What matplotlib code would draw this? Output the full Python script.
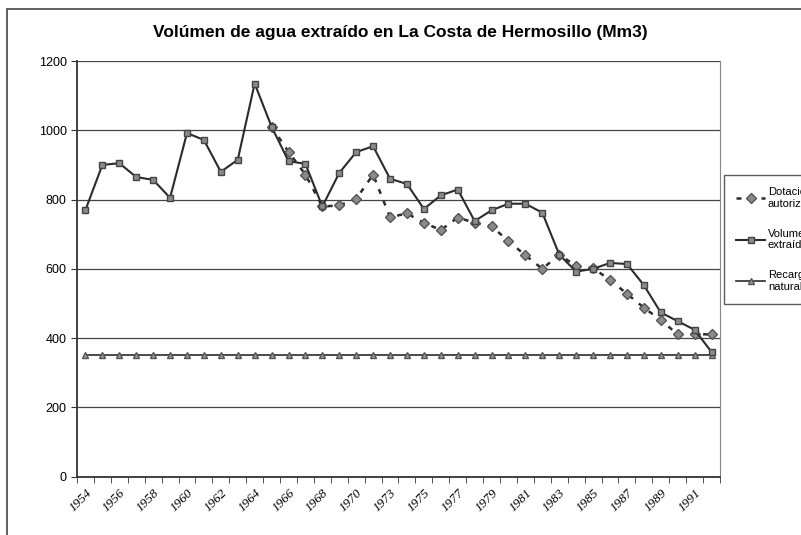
import numpy as np
import matplotlib
matplotlib.use("Agg")
import matplotlib.pyplot as plt
from matplotlib.patches import Rectangle
from matplotlib.transforms import ScaledTranslation

# Years on the category axis (1972 is not in the series)
years = list(range(1954, 1972)) + list(range(1973, 1993))

# Volumes in Mm3
volumen = [770, 900, 905, 865, 857, 805, 992, 972, 880, 915, 1135, 1010, 911,
           903, 780, 877, 937, 954, 860, 845, 773, 812, 829, 738, 769, 788,
           788, 762, 641, 592, 600, 617, 614, 553, 474, 449, 424, 360]
dotacion = [np.nan] * 11 + [1010, 938, 872, 780, 783, 802, 872, 749, 760, 733,
                            712, 748, 733, 723, 680, 639, 600, 641, 608, 602,
                            568, 528, 488, 452, 411, 411, 411]
recarga = [352] * 38

labels = ['Dotacion\nautorizada', 'Volumen\nextraído', 'Recarga\nnatural']

x = np.arange(len(years))

fig = plt.figure(figsize=(8.01, 5.35), dpi=100)
ax = fig.add_axes([77 / 801, 1 - 476.7 / 535, (720 - 77) / 801, (476.7 - 61) / 535])

line_c = '#2b2b2b'
ax.plot(x, dotacion, linestyle=(0, (2, 3)), color=line_c, lw=1.8,
        marker='D', ms=5, mfc='#8a8a8a', mec='#555555', label=labels[0], zorder=3)
ax.plot(x, volumen, '-', color=line_c, lw=1.5,
        marker='s', ms=4.5, mfc='#8a8a8a', mec='#444444', label=labels[1], zorder=4)
ax.plot(x, recarga, '-', color=line_c, lw=1.2,
        marker='^', ms=4, mfc='#9a9a9a', mec='#555555', label=labels[2], zorder=3)

ax.set_xlim(-0.5, len(years) - 0.5)
ax.set_ylim(0, 1200)
ax.set_yticks(range(0, 1201, 200))
ax.yaxis.grid(True, color='#444444', lw=0.9)
ax.set_axisbelow(True)

# tick marks sit between categories, labels on every other year
ax.set_xticks(np.arange(len(years) + 1) - 0.5, minor=True)
ax.set_xticks(x[::2])
ax.set_xticklabels([str(y) for y in years[::2]], rotation=45, ha='right',
                   va='top', rotation_mode='anchor', fontsize=9.5,
                   family='Liberation Serif', style='italic')
shift = ScaledTranslation(-5 / 100, 0, fig.dpi_scale_trans)
for t in ax.get_xticklabels():
    t.set_transform(t.get_transform() + shift)
ax.tick_params(axis='x', which='major', length=0, pad=7)
ax.tick_params(axis='x', which='minor', length=4, direction='out', color='#333333')
ax.tick_params(axis='y', length=4, direction='out', labelsize=9, color='#333333')
for t in ax.get_yticklabels():
    t.set_family('Liberation Sans')

for side in ['left', 'bottom']:
    ax.spines[side].set_color('#333333')
    ax.spines[side].set_linewidth(1.3)
ax.spines['right'].set_color('#888888')
ax.spines['top'].set_visible(False)

fig.text(0.5, 1 - 33 / 535, 'Volúmen de agua extraído en La Costa de Hermosillo (Mm3)',
         ha='center', va='center', fontsize=12.5, fontweight='bold',
         family='Liberation Sans')

leg = fig.legend(loc='upper left', bbox_to_anchor=(724 / 801, 1 - 175 / 535),
                 handlelength=2.6, handletextpad=0.25, labelspacing=1.8,
                 fancybox=False, borderpad=1.1, borderaxespad=0,
                 prop={'family': 'Liberation Sans', 'size': 8})
leg.get_frame().set_edgecolor('#333333')
leg.get_frame().set_linewidth(1.0)

# outer chart frame
fig.patches.append(Rectangle((7 / 801, -0.1), 1.2, 1.1 - 9 / 535, transform=fig.transFigure,
                             fill=False, edgecolor='#444444', lw=1.2))

fig.savefig('out.png', dpi=100)
